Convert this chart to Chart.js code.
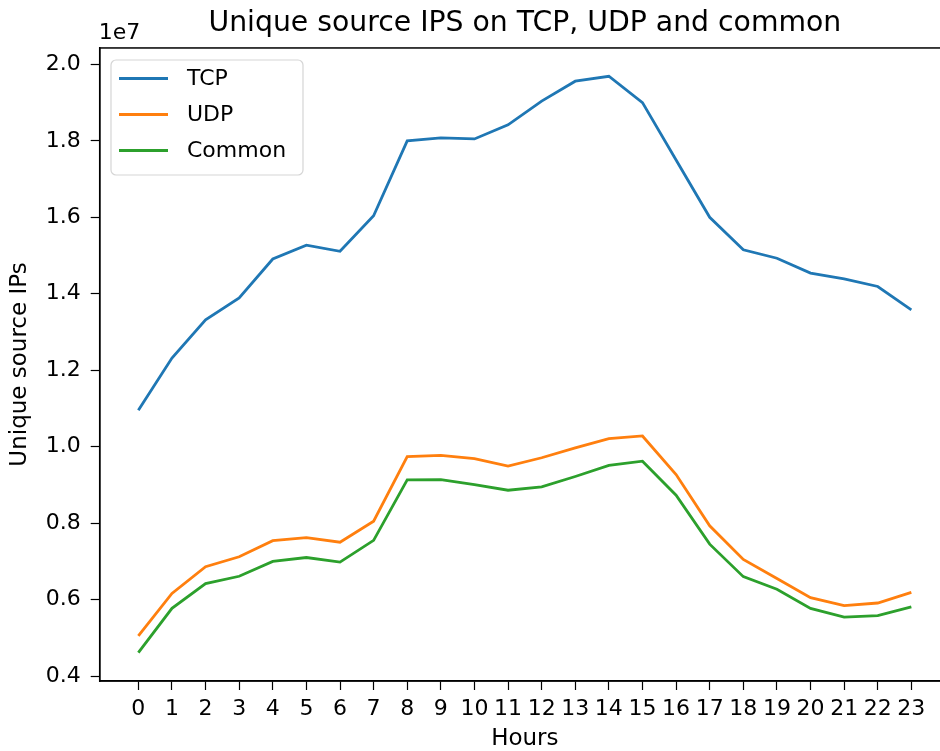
<!DOCTYPE html>
<html>
<head>
<meta charset="utf-8">
<script src="https://cdn.jsdelivr.net/npm/chart.js@4"></script>
<style>
    html, body { margin: 0; padding: 0; background: #fff; overflow: hidden; }
    #wrap { width: 950px; height: 751px; position: relative; }
</style>
</head>
<body>
<div id="wrap"><canvas id="ips-chart"></canvas></div>
<script>
const hours = [0, 1, 2, 3, 4, 5, 6, 7, 8, 9, 10, 11, 12, 13, 14, 15, 16, 17, 18, 19, 20, 21, 22, 23];

const tcpIps = [10.95e6, 12.32e6, 13.32e6, 13.89e6, 14.91e6, 15.27e6, 15.11e6, 16.04e6, 18.0e6, 18.08e6, 18.05e6, 18.42e6,
    19.04e6, 19.56e6, 19.69e6, 19.0e6, 17.5e6, 16.0e6, 15.15e6, 14.93e6, 14.54e6, 14.39e6, 14.19e6, 13.58e6];
const udpIps = [5.05e6, 6.16e6, 6.86e6, 7.12e6, 7.54e6, 7.62e6, 7.50e6, 8.05e6, 9.74e6, 9.77e6, 9.69e6, 9.49e6,
    9.71e6, 9.97e6, 10.21e6, 10.28e6, 9.27e6, 7.93e6, 7.05e6, 6.55e6, 6.05e6, 5.84e6, 5.91e6, 6.19e6];
const commonIps = [4.61e6, 5.77e6, 6.42e6, 6.61e6, 7.00e6, 7.10e6, 6.98e6, 7.55e6, 9.13e6, 9.14e6, 9.01e6, 8.86e6,
    8.95e6, 9.22e6, 9.51e6, 9.62e6, 8.73e6, 7.45e6, 6.60e6, 6.27e6, 5.77e6, 5.54e6, 5.58e6, 5.81e6];

const yTicks = [0.4e7, 0.6e7, 0.8e7, 1.0e7, 1.2e7, 1.4e7, 1.6e7, 1.8e7, 2.0e7];

const FONT = "'DejaVu Sans', sans-serif";

function toPoints(values) {
    return values.map((v, i) => ({ x: hours[i], y: v }));
}

// box round the plot, "1e7" offset text and the legend (matplotlib style)
const mplDecor = {
    id: "mplDecor",
    afterDraw(chart) {
        const ctx = chart.ctx;
        const a = chart.chartArea;
        ctx.save();
        ctx.strokeStyle = "#000";
        ctx.lineWidth = 1.5;
        ctx.strokeRect(a.left, a.top, a.right - a.left, a.bottom - a.top);

        ctx.fillStyle = "#000";
        ctx.font = "22px " + FONT;
        ctx.textAlign = "left";
        ctx.textBaseline = "alphabetic";
        ctx.fillText("1e7", a.left - 1, a.top - 9);

        // legend
        const bx = 111, by = 60, bw = 192, bh = 115, r = 5;
        ctx.beginPath();
        ctx.moveTo(bx + r, by);
        ctx.arcTo(bx + bw, by, bx + bw, by + bh, r);
        ctx.arcTo(bx + bw, by + bh, bx, by + bh, r);
        ctx.arcTo(bx, by + bh, bx, by, r);
        ctx.arcTo(bx, by, bx + bw, by, r);
        ctx.closePath();
        ctx.fillStyle = "rgba(255,255,255,0.8)";
        ctx.fill();
        ctx.strokeStyle = "#d5d5d5";
        ctx.lineWidth = 1.2;
        ctx.stroke();

        chart.data.datasets.forEach((ds, i) => {
            const y = 78.5 + i * 36;
            ctx.beginPath();
            ctx.moveTo(119, y);
            ctx.lineTo(168, y);
            ctx.strokeStyle = ds.borderColor;
            ctx.lineWidth = 2.8;
            ctx.stroke();
            ctx.fillStyle = "#000";
            ctx.font = "22px " + FONT;
            ctx.textBaseline = "middle";
            ctx.fillText(ds.label, 187, y + 1);
        });
        ctx.restore();
    }
};

const ctx = document.getElementById("ips-chart").getContext("2d");
new Chart(ctx, {
    type: "line",
    data: {
        datasets: [
            { label: "TCP", data: toPoints(tcpIps), borderColor: "#1f77b4" },
            { label: "UDP", data: toPoints(udpIps), borderColor: "#ff7f0e" },
            { label: "Common", data: toPoints(commonIps), borderColor: "#2ca02c" }
        ]
    },
    options: {
        responsive: true,
        maintainAspectRatio: false,
        animation: false,
        devicePixelRatio: 1,
        layout: { padding: 0 },
        elements: {
            line: { borderWidth: 2.8, tension: 0, fill: false },
            point: { radius: 0, hoverRadius: 0 }
        },
        plugins: {
            legend: { display: false },
            tooltip: { enabled: false },
            title: {
                display: true,
                fullSize: false,
                text: "Unique source IPS on TCP, UDP and common",
                color: "#000",
                font: { family: FONT, size: 28.3, weight: "normal", lineHeight: 1.2 },
                padding: { top: 7, bottom: 7 }
            }
        },
        scales: {
            x: {
                type: "linear",
                min: -1.15,
                max: 24.15,
                afterBuildTicks: scale => { scale.ticks = hours.map(h => ({ value: h })); },
                afterFit: scale => { scale.height = 70; },
                grid: { drawOnChartArea: false, tickLength: 9, tickColor: "#000", tickWidth: 1.2 },
                border: { color: "#000", width: 1.5 },
                ticks: {
                    color: "#000",
                    padding: 6,
                    autoSkip: false,
                    maxRotation: 0,
                    font: { family: FONT, size: 22 },
                    callback: v => String(v)
                },
                title: {
                    display: true,
                    text: "Hours",
                    color: "#000",
                    font: { family: FONT, size: 23, lineHeight: 1 },
                    padding: 0
                }
            },
            y: {
                min: 0.387e7,
                max: 2.043e7,
                afterBuildTicks: scale => { scale.ticks = yTicks.map(v => ({ value: v })); },
                afterFit: scale => { scale.width = 99.7; },
                grid: { drawOnChartArea: false, tickLength: 9, tickColor: "#000", tickWidth: 1.2 },
                border: { color: "#000", width: 1.5 },
                ticks: {
                    color: "#000",
                    padding: 10,
                    font: { family: FONT, size: 22 },
                    callback: v => (v / 1e7).toFixed(1)
                },
                title: {
                    display: true,
                    text: "Unique source IPs",
                    color: "#000",
                    font: { family: FONT, size: 23, lineHeight: 1 },
                    padding: { top: 9, bottom: 0 }
                }
            }
        }
    },
    plugins: [mplDecor]
});
</script>
</body>
</html>
